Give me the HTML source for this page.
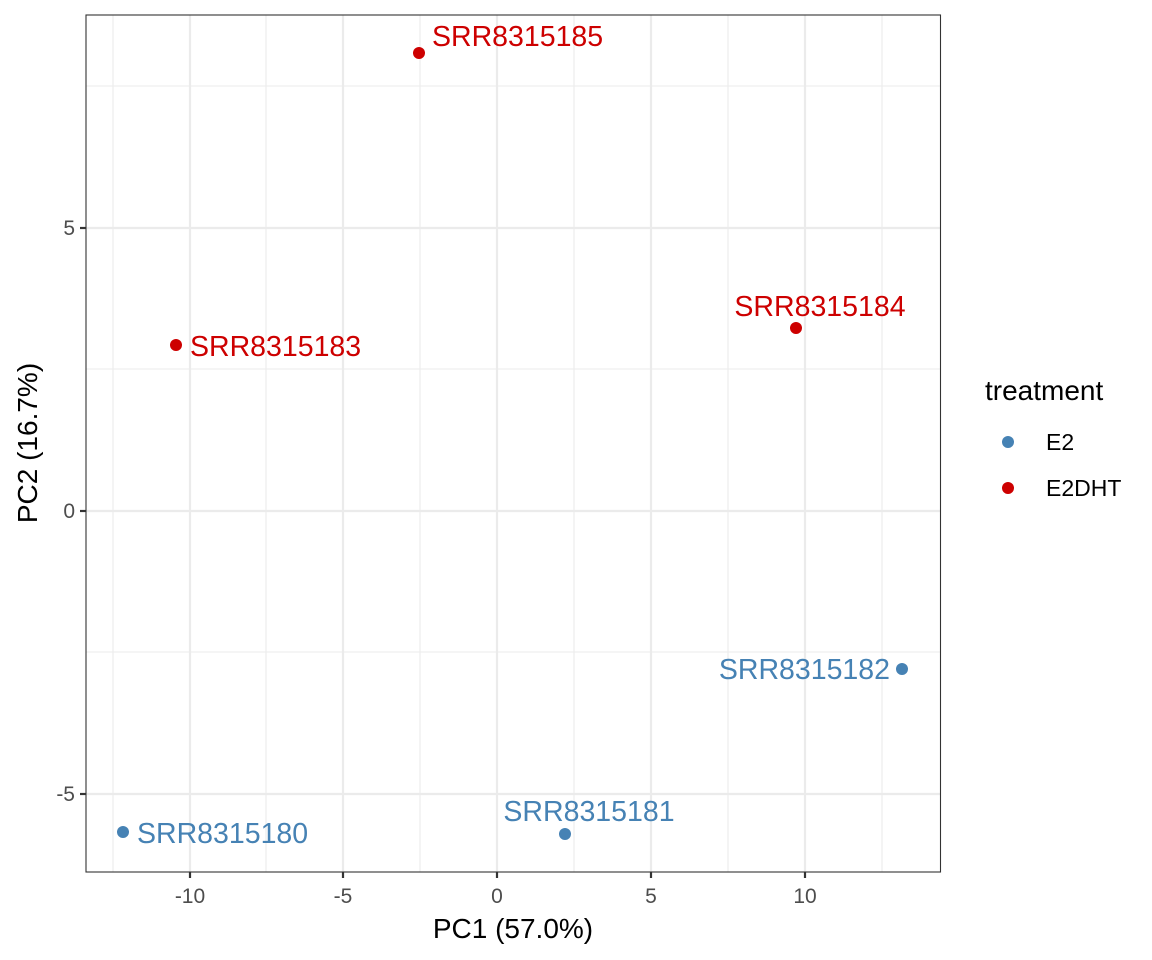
<!DOCTYPE html>
<html><head><style>body{margin:0;background:#fff}svg{display:block}text{font-family:"Liberation Sans",sans-serif}</style></head><body>
<svg width="1152" height="960" xmlns="http://www.w3.org/2000/svg">
<rect width="1152" height="960" fill="#fff"/>
<g stroke="#ebebeb" stroke-width="1.1">
<line x1="113" y1="15" x2="113" y2="872"/><line x1="266" y1="15" x2="266" y2="872"/><line x1="420" y1="15" x2="420" y2="872"/><line x1="574" y1="15" x2="574" y2="872"/><line x1="728" y1="15" x2="728" y2="872"/><line x1="882" y1="15" x2="882" y2="872"/>
<line x1="86" y1="86" x2="940" y2="86"/><line x1="86" y1="369" x2="940" y2="369"/><line x1="86" y1="652" x2="940" y2="652"/>
</g>
<g stroke="#ebebeb" stroke-width="2.2">
<line x1="190" y1="15" x2="190" y2="872"/><line x1="343" y1="15" x2="343" y2="872"/><line x1="497" y1="15" x2="497" y2="872"/><line x1="651" y1="15" x2="651" y2="872"/><line x1="805" y1="15" x2="805" y2="872"/>
<line x1="86" y1="228" x2="940" y2="228"/><line x1="86" y1="511" x2="940" y2="511"/><line x1="86" y1="794" x2="940" y2="794"/>
</g>
<rect x="86" y="15" width="854.5" height="857" fill="none" stroke="#333" stroke-width="1.1"/>
<g stroke="#333" stroke-width="2.2">
<line x1="80" y1="228" x2="86" y2="228"/><line x1="80" y1="511" x2="86" y2="511"/><line x1="80" y1="794" x2="86" y2="794"/>
<line x1="190" y1="872" x2="190" y2="878"/><line x1="343" y1="872" x2="343" y2="878"/><line x1="497" y1="872" x2="497" y2="878"/><line x1="651" y1="872" x2="651" y2="878"/><line x1="805" y1="872" x2="805" y2="878"/>
</g>
<g fill="#4d4d4d" font-size="21">
<text x="75" y="235" text-anchor="end">5</text><text x="75" y="518" text-anchor="end">0</text><text x="75" y="801" text-anchor="end">-5</text>
<text x="190" y="903" text-anchor="middle">-10</text><text x="343" y="903" text-anchor="middle">-5</text><text x="497" y="903" text-anchor="middle">0</text><text x="651" y="903" text-anchor="middle">5</text><text x="805" y="903" text-anchor="middle">10</text>
</g>
<text x="513" y="938" text-anchor="middle" font-size="28">PC1 (57.0%)</text>
<text transform="translate(37,443) rotate(-90)" text-anchor="middle" font-size="28">PC2 (16.7%)</text>
<g fill="#4682b4">
<circle cx="123" cy="832" r="6"/><circle cx="565" cy="834" r="6"/><circle cx="902" cy="669" r="6"/>
</g>
<g fill="#cd0000">
<circle cx="176" cy="345" r="6"/><circle cx="796" cy="328" r="6"/><circle cx="419" cy="53" r="6"/>
</g>
<g font-size="28.5" fill="#4682b4">
<text x="137" y="843">SRR8315180</text>
<text x="589" y="821" text-anchor="middle">SRR8315181</text>
<text x="890" y="679" text-anchor="end">SRR8315182</text>
</g>
<g font-size="28.5" fill="#cd0000">
<text x="190" y="356">SRR8315183</text>
<text x="820" y="316" text-anchor="middle">SRR8315184</text>
<text x="432" y="46">SRR8315185</text>
</g>
<text x="985" y="400" font-size="28">treatment</text>
<circle cx="1008" cy="442" r="6" fill="#4682b4"/>
<circle cx="1008" cy="488" r="6" fill="#cd0000"/>
<text x="1046" y="450" font-size="23">E2</text>
<text x="1046" y="496" font-size="23">E2DHT</text>
</svg>
</body></html>
